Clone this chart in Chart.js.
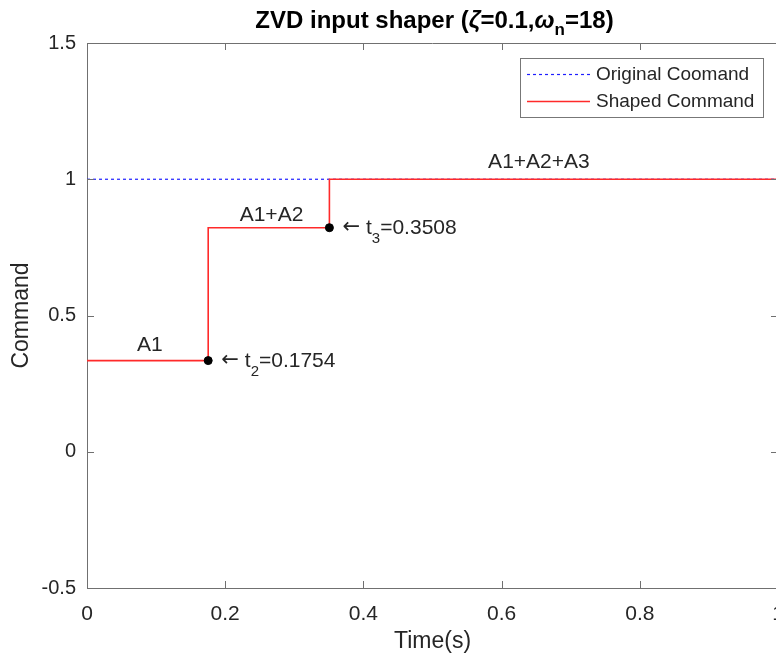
<!DOCTYPE html>
<html>
<head>
<meta charset="utf-8">
<script src="https://cdn.jsdelivr.net/npm/chart.js@4.4.1/dist/chart.umd.min.js"></script>
<style>
  html, body { margin: 0; padding: 0; background: #fff; overflow: hidden; }
  #wrap { width: 800px; height: 659px; }
</style>
</head>
<body>
<div id="wrap"><canvas id="shaperChart" width="800" height="659"></canvas></div>
<script>
// step command data
const stepTimes = [0, 0.1754, 0.3508, 1];
const shapedCommand = [0.3345, 0.8222, 1, 1];
const originalTimes = [0, 1];
const originalCommand = [1, 1];
const impulseTimes = [0.1754, 0.3508];
const impulseLevels = [0.3345, 0.8222];
const impulseNames = ['2', '3'];
const xTickValues = [0, 0.2, 0.4, 0.6, 0.8, 1];
const yTickValues = [-0.5, 0, 0.5, 1, 1.5];
const stepLabels = ['A1', 'A1+A2', 'A1+A2+A3'];
const stepLabelX = [0.091, 0.267, 0.654];
const stepLabelY = [0.392, 0.869, 1.063];

const axisColor = '#707070';
const textColor = '#262626';
const SANS = '"Liberation Sans", Arial, sans-serif';

const toPoints = (xs, ys) => xs.map((x, i) => ({ x: x, y: ys[i] }));

// MATLAB-like decorations: box, inward ticks, title, text, legend
const matlabDecor = {
    id: 'matlabDecor',
    afterDraw(chart) {
        const ctx = chart.ctx;
        const area = chart.chartArea;
        const xs = chart.scales.x, ys = chart.scales.y;
        ctx.save();

        // box + inward ticks
        ctx.strokeStyle = axisColor;
        ctx.lineWidth = 1;
        ctx.beginPath();
        ctx.moveTo(area.left, area.top + 0.5);
        ctx.lineTo(area.right, area.top + 0.5);
        ctx.moveTo(area.right - 0.5, area.top);
        ctx.lineTo(area.right - 0.5, area.bottom);
        xs.ticks.forEach(t => {
            const px = Math.round(xs.getPixelForValue(t.value)) + 0.5;
            ctx.moveTo(px, area.bottom); ctx.lineTo(px, area.bottom - 7);
            ctx.moveTo(px, area.top); ctx.lineTo(px, area.top + 7);
        });
        ys.ticks.forEach(t => {
            const py = Math.round(ys.getPixelForValue(t.value)) + 0.5;
            ctx.moveTo(area.left, py); ctx.lineTo(area.left + 7, py);
            ctx.moveTo(area.right, py); ctx.lineTo(area.right - 7, py);
        });
        ctx.stroke();

        // title
        ctx.fillStyle = '#000';
        ctx.textBaseline = 'alphabetic';
        const parts = [
            { s: 'ZVD input shaper (', f: 'bold 24px ' + SANS, dy: 0 },
            { s: 'ζ', f: 'italic bold 24px ' + SANS, dy: 0 },
            { s: '=0.1,', f: 'bold 24px ' + SANS, dy: 0 },
            { s: 'ω', f: 'italic bold 24px ' + SANS, dy: 0 },
            { s: 'n', f: 'bold 17px ' + SANS, dy: 7 },
            { s: '=18)', f: 'bold 24px ' + SANS, dy: 0 }
        ];
        let total = 0;
        parts.forEach(p => { ctx.font = p.f; p.w = ctx.measureText(p.s).width; total += p.w; });
        let tx = (area.left + area.right) / 2 - total / 2 + 2;
        ctx.textAlign = 'left';
        parts.forEach(p => { ctx.font = p.f; ctx.fillText(p.s, tx, 28 + p.dy); tx += p.w; });

        // step amplitude labels
        ctx.fillStyle = textColor;
        ctx.font = '21px ' + SANS;
        ctx.textAlign = 'center';
        ctx.textBaseline = 'middle';
        stepLabels.forEach((lab, i) => {
            ctx.fillText(lab, xs.getPixelForValue(stepLabelX[i]), ys.getPixelForValue(stepLabelY[i]));
        });

        // impulse time labels
        ctx.textAlign = 'left';
        ctx.textBaseline = 'alphabetic';
        impulseTimes.forEach((t, i) => {
            let px = xs.getPixelForValue(t) + 13;
            const py = ys.getPixelForValue(impulseLevels[i]) + 6;
            ctx.font = '21px "DejaVu Sans", sans-serif';
            ctx.fillText('\u2190', px, py - 1);
            px += ctx.measureText('\u2190').width + 6;
            ctx.font = '21px ' + SANS;
            ctx.fillText('t', px, py);
            px += ctx.measureText('t').width;
            ctx.font = '15px ' + SANS;
            ctx.fillText(impulseNames[i], px, py + 9);
            px += ctx.measureText(impulseNames[i]).width;
            ctx.font = '21px ' + SANS;
            ctx.fillText('=' + t.toFixed(4), px, py);
        });

        // legend
        const lx = 520, ly = 58, lw = 243, lh = 59;
        ctx.fillStyle = '#fff';
        ctx.fillRect(lx, ly, lw, lh);
        ctx.strokeStyle = '#777';
        ctx.lineWidth = 1;
        ctx.strokeRect(lx + 0.5, ly + 0.5, lw, lh);
        const entries = [chart.data.datasets[2], chart.data.datasets[1]];
        entries.forEach((ds, i) => {
            const ry = ly + 16 + i * 27;
            ctx.beginPath();
            ctx.strokeStyle = ds.borderColor;
            ctx.lineWidth = ds.borderWidth;
            ctx.setLineDash(ds.borderDash || []);
            ctx.moveTo(lx + 7, ry + 0.5);
            ctx.lineTo(lx + 70, ry + 0.5);
            ctx.stroke();
            ctx.setLineDash([]);
            ctx.fillStyle = textColor;
            ctx.font = '19px ' + SANS;
            ctx.textBaseline = 'middle';
            ctx.fillText(ds.label, lx + 76, ry + 1);
        });
        ctx.restore();
    }
};

const ctx = document.getElementById('shaperChart').getContext('2d');
const shaperChart = new Chart(ctx, {
    type: 'line',
    data: {
        datasets: [{
            type: 'scatter',
            label: 'Impulses',
            data: toPoints(impulseTimes, impulseLevels),
            backgroundColor: '#000',
            borderColor: '#000',
            pointRadius: 4,
            showLine: false
        }, {
            label: 'Shaped Command',
            data: toPoints(stepTimes, shapedCommand),
            borderColor: '#ff2a2a',
            borderWidth: 1.6,
            stepped: 'before',
            pointRadius: 0,
            fill: false
        }, {
            label: 'Original Coomand',
            data: toPoints(originalTimes, originalCommand),
            borderColor: '#1f1fff',
            borderWidth: 1.2,
            borderDash: [3, 3],
            pointRadius: 0,
            fill: false
        }]
    },
    options: {
        responsive: false,
        animation: false,
        layout: { padding: { left: 0, top: 43, right: 22, bottom: 0 } },
        plugins: {
            legend: { display: false },
            tooltip: { enabled: false },
            title: { display: false }
        },
        scales: {
            x: {
                type: 'linear',
                min: 0,
                max: 1,
                afterBuildTicks: s => { s.ticks = xTickValues.map(v => ({ value: v })); },
                afterFit: s => { s.height = 71; },
                grid: { display: false, drawTicks: false },
                border: { display: true, color: axisColor, width: 1 },
                ticks: {
                    color: textColor,
                    padding: 14,
                    maxRotation: 0,
                    callback: v => String(v),
                    font: { family: SANS, size: 21 }
                },
                title: {
                    display: true,
                    text: 'Time(s)',
                    color: textColor,
                    padding: { top: 0, bottom: 4 },
                    font: { family: SANS, size: 23 }
                }
            },
            y: {
                min: -0.5,
                max: 1.5,
                afterBuildTicks: s => { s.ticks = yTickValues.map(v => ({ value: v })); },
                afterFit: s => { s.width = 87; },
                grid: { display: false, drawTicks: false },
                border: { display: true, color: axisColor, width: 1 },
                ticks: {
                    color: textColor,
                    padding: 11,
                    callback: v => String(v),
                    font: { family: SANS, size: 20 }
                },
                title: {
                    display: true,
                    text: 'Command',
                    color: textColor,
                    padding: { top: 8, bottom: 0 },
                    font: { family: SANS, size: 23 }
                }
            }
        }
    },
    plugins: [matlabDecor]
});
</script>
</body>
</html>
